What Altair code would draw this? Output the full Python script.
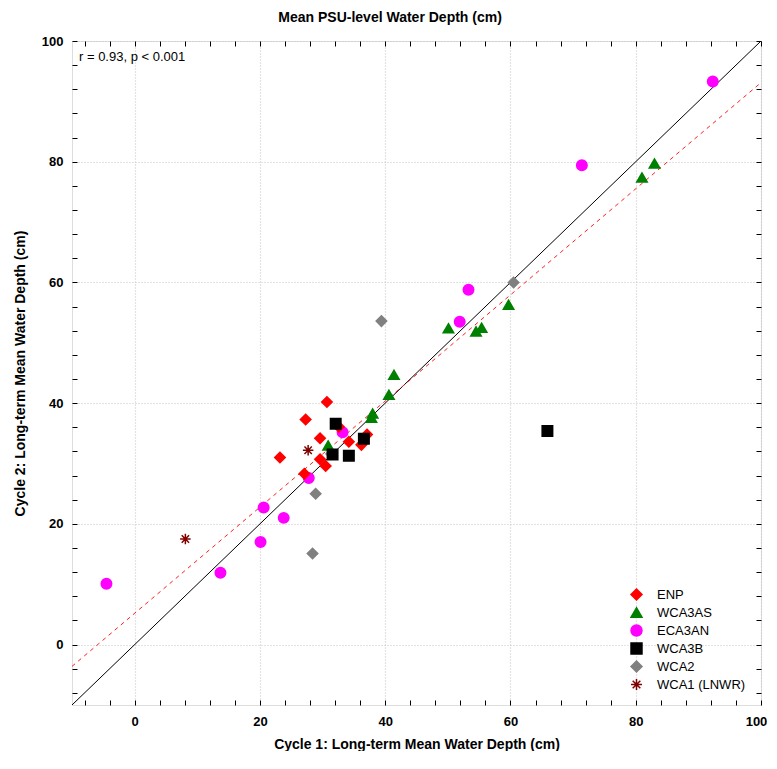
import altair as alt
import pandas as pd

# ---- data ----
sites = ["ENP", "WCA3AS", "ECA3AN", "WCA3B", "WCA2", "WCA1 (LNWR)"]

enp_x = [30.7, 27.3, 32.6, 29.6, 34.2, 37.1, 36.2, 23.2, 29.6, 30.5, 27.1]
enp_y = [40.2, 37.3, 36.1, 34.2, 33.6, 34.8, 33.1, 31.0, 30.7, 29.6, 28.3]

wca3as_x = [30.9, 38.0, 37.8, 40.6, 41.4, 50.1, 54.5, 55.4, 59.7, 81.0, 83.0]
wca3as_y = [33.0, 38.3, 37.6, 41.4, 44.7, 52.4, 51.9, 52.5, 56.3, 77.4, 79.7]

eca3an_x = [33.2, 27.8, 20.6, 23.8, 20.1, 13.7, -4.5, 53.3, 51.9, 71.4, 92.3]
eca3an_y = [35.2, 27.6, 22.7, 21.0, 17.0, 11.9, 10.1, 58.8, 53.5, 79.4, 93.3]

wca3b_x = [32.1, 36.6, 31.6, 34.2, 65.9]
wca3b_y = [36.6, 34.1, 31.5, 31.3, 35.4]

wca2_x = [28.9, 28.4, 31.4, 39.4, 60.5]
wca2_y = [25.0, 15.1, 31.6, 53.6, 60.0]

wca1_x = [27.7, 8.1]
wca1_y = [32.2, 17.5]

# fitted regression line (red dashed) and 1:1 line (black)
fit_x = [-10, 100]
fit_y = [-3.6, 93.1]
one_x = [-10, 100]
one_y = [-10, 100]

tick_vals = list(range(-8, 101, 4))
stat_text = "r = 0.93, p < 0.001"

title_text = "Mean PSU-level Water Depth (cm)"
x_title = "Cycle 1: Long-term Mean Water Depth (cm)"
y_title = "Cycle 2: Long-term Mean Water Depth (cm)"

colors = ["#ff0000", "#008000", "#ff00ff", "#000000", "#808080", "#800000"]
asterisk = "M-1,0L1,0M0,-1L0,1M-0.7,-0.7L0.7,0.7M-0.7,0.7L0.7,-0.7"
shapes = ["diamond", "triangle-up", "circle", "square", "diamond", asterisk]

# ---- build tables ----
groups = [enp_x, wca3as_x, eca3an_x, wca3b_x, wca2_x, wca1_x]
groups_y = [enp_y, wca3as_y, eca3an_y, wca3b_y, wca2_y, wca1_y]
rows = []
for s, xs, ys in zip(sites, groups, groups_y):
    for a, b in zip(xs, ys):
        rows.append({"site": s, "x": a, "y": b})
pts = pd.DataFrame(rows)
fit_df = pd.DataFrame({"x": fit_x, "y": fit_y})
one_df = pd.DataFrame({"x": one_x, "y": one_y})

FONT = "Liberation Sans"
dom = [-10, 100]
xs_scale = alt.Scale(domain=dom, nice=False, zero=False)
ys_scale = alt.Scale(domain=dom, nice=False, zero=False)

major = "datum.value % 20 === 0"

x_main = alt.Axis(
    orient="bottom", values=tick_vals, offset=-5, tickSize=5, tickColor="#000",
    domain=False, labelExpr=f"{major} ? datum.label : ''", labelFlush=False,
    labelOffset={"condition": {"test": "datum.value === 100", "value": -5}, "value": 0},
    labelFont=FONT, labelFontSize=13, labelFontWeight="bold", labelColor="#000",
    labelPadding=10, title=x_title, titleFont=FONT, titleFontSize=14,
    titleFontWeight="bold", titleColor="#000", titlePadding=9,
    grid=True, gridColor="#c8c8c8", gridDash=[1, 2], gridWidth=1.2,
    gridOpacity={"condition": {"test": major, "value": 1}, "value": 0},
)
y_main = alt.Axis(
    orient="left", values=tick_vals, offset=-5, tickSize=5, tickColor="#000",
    domain=False, labelExpr=f"{major} ? datum.label : ''", labelFlush=False,
    labelFont=FONT, labelFontSize=13, labelFontWeight="bold", labelColor="#000",
    labelPadding=9, title=y_title, titleFont=FONT, titleFontSize=14,
    titleFontWeight="bold", titleColor="#000", titlePadding=14,
    grid=True, gridColor="#c8c8c8", gridDash=[1, 2], gridWidth=1.2,
    gridOpacity={"condition": {"test": major, "value": 1}, "value": 0},
)
x_top = alt.Axis(orient="top", values=tick_vals, offset=-5, tickSize=5,
                 tickColor="#000", domain=False, labels=False, title=None, grid=False)
y_right = alt.Axis(orient="right", values=tick_vals, offset=-5, tickSize=5,
                   tickColor="#000", domain=False, labels=False, title=None, grid=False)

one_line = alt.Chart(one_df).mark_line(color="#000", strokeWidth=1).encode(
    x=alt.X("x:Q", scale=xs_scale, axis=x_main),
    y=alt.Y("y:Q", scale=ys_scale, axis=y_main),
)
fit_line = alt.Chart(fit_df).mark_line(color="#ff2020", strokeWidth=1, strokeDash=[4, 4]).encode(
    x=alt.X("x:Q", scale=xs_scale, axis=x_top),
    y=alt.Y("y:Q", scale=ys_scale, axis=y_right),
)

cscale = alt.Scale(domain=sites, range=colors)
points = alt.Chart(pts).mark_point(filled=True, size=110, strokeWidth=1.5, opacity=1).encode(
    x=alt.X("x:Q", scale=xs_scale, axis=None),
    y=alt.Y("y:Q", scale=ys_scale, axis=None),
    color=alt.Color("site:N", scale=cscale, title=None,
                    legend=alt.Legend(orient="none", legendX=558, legendY=547,
                                      labelFont=FONT, labelFontSize=13, labelColor="#000",
                                      symbolSize=120, symbolStrokeWidth=1.5, rowPadding=1,
                                      labelOffset=14, padding=0)),
    stroke=alt.Stroke("site:N", scale=cscale, title=None),
    shape=alt.Shape("site:N", scale=alt.Scale(domain=sites, range=shapes), title=None),
    order=alt.Order("site:N"),
)

text = alt.Chart(pd.DataFrame({"t": [stat_text]})).mark_text(
    align="left", baseline="middle", font=FONT, fontSize=13, color="#000"
).encode(text="t:N", x=alt.value(7), y=alt.value(16))

chart = alt.layer(one_line, fit_line, points, text).resolve_axis(
    x="independent", y="independent"
).properties(
    width=689, height=664,
    title=alt.Title(title_text, font=FONT, fontSize=14, fontWeight="bold",
                    color="#000", anchor="middle", frame="bounds", offset=10),
    padding={"left": 5, "top": 3, "right": 0, "bottom": 0},
).configure_view(stroke="#222", strokeWidth=1.5).configure(background="white")

chart.save("out.html", embed_options={"renderer": "svg", "actions": False})
